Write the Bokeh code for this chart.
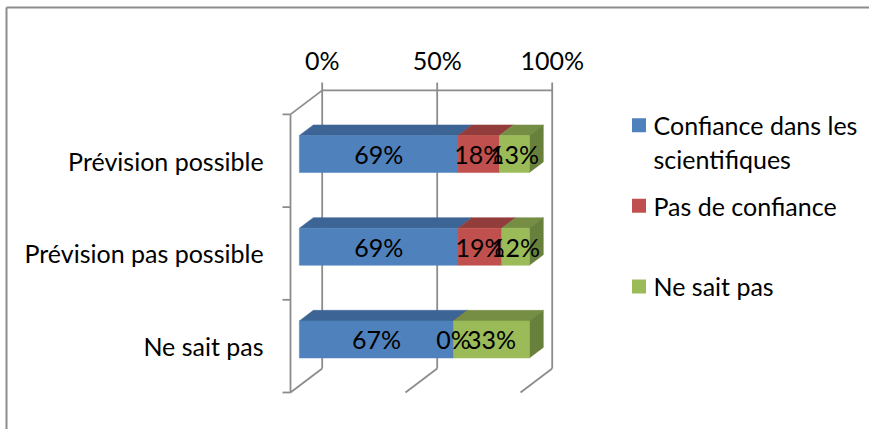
import textwrap
from bokeh.plotting import figure
from bokeh.models import Range1d, ColumnDataSource
from bokeh.core.properties import value
from bokeh.embed import file_html
from bokeh.resources import INLINE

# ---------------- data ----------------
categories = ["Prévision possible", "Prévision pas possible", "Ne sait pas"]
series_names = ["Confiance dans les scientifiques", "Pas de confiance", "Ne sait pas"]
confiance = [69, 69, 67]
pas_de_confiance = [18, 19, 0]
ne_sait_pas = [13, 12, 33]
tick_values = [0, 50, 100]
tick_labels = ["0%", "50%", "100%"]

series_values = [confiance, pas_de_confiance, ne_sait_pas]
front_colors = ["#4F81BD", "#C0504D", "#9BBB59"]
top_colors = ["#3C6494", "#923D3B", "#768E44"]
side_colors = ["#35587F", "#7F3533", "#67803B"]

# ---------------- geometry / styles ----------------
W, H = 869, 429
PX_PER_PCT = 2.3          # pixels per percent on the front plane
PX_PER_CAT = 92.7         # pixels per category band
ORIG_X, ORIG_Y = 290, 392 # page position of the front-plane origin
PAGE_OFF = 0
DX = 31.7 / PX_PER_PCT    # depth vector (full depth) in data units
DY = 24.0 / PX_PER_CAT
F1, F2 = 0.28, 0.72       # bar front / back depth fractions
HB = 0.2                  # half bar height in category units
FONT = value("Lato")
FSIZE = "25px"
GRID = "#8C8C8C"

x_start = (PAGE_OFF - ORIG_X) / PX_PER_PCT
x_end = x_start + W / PX_PER_PCT
y_end = (ORIG_Y - PAGE_OFF) / PX_PER_CAT
y_start = y_end - H / PX_PER_CAT

p = figure(width=W, height=H, x_range=Range1d(x_start, x_end),
           y_range=Range1d(y_start, y_end), output_backend="svg",
           toolbar_location=None, min_border=0,
           x_axis_type=None, y_axis_type=None)
p.grid.visible = False
p.outline_line_color = None
p.background_fill_color = "white"
p.border_fill_color = "white"

n = len(categories)
centers = [n - 0.5 - i for i in range(n)]
tick_len_y = 8 / PX_PER_CAT
tick_len_x = 8 / PX_PER_PCT

# chart-area border (top and left visible)
bx = x_start + 6 / PX_PER_PCT
by = y_end - 7 / PX_PER_CAT
p.segment(x0=[bx, bx], y0=[by, by], x1=[x_end, bx], y1=[by, y_start],
          line_color="#8C8C8C", line_width=2)

# ---------------- walls / gridlines ----------------
gx0, gy0, gx1, gy1 = [], [], [], []
for t in tick_values:
    gx0.append(t + DX); gy0.append(DY); gx1.append(t + DX); gy1.append(n + DY + tick_len_y)
    gx0.append(t); gy0.append(0); gx1.append(t + DX); gy1.append(DY)
gx0.append(tick_values[0] + DX); gy0.append(n + DY); gx1.append(tick_values[-1] + DX); gy1.append(n + DY)
gx0.append(0); gy0.append(0); gx1.append(0); gy1.append(n)
gx0.append(0); gy0.append(n); gx1.append(DX); gy1.append(n + DY)
for k in range(n + 1):
    gx0.append(-tick_len_x); gy0.append(k); gx1.append(0); gy1.append(k)
p.segment(x0=gx0, y0=gy0, x1=gx1, y1=gy1, line_color=GRID, line_width=1.8)

# ---------------- bars ----------------
front = dict(left=[], right=[], bottom=[], top=[], color=[])
tops = dict(xs=[], ys=[], color=[])
sides = dict(xs=[], ys=[], color=[])
labels = dict(x=[], y=[], text=[])
for ci, yc in enumerate(centers):
    cum = 0
    last_s = 0
    for si, vals in enumerate(series_values):
        v = vals[ci]
        l, r = cum, cum + v
        b1, t1 = yc - HB + F1 * DY, yc + HB + F1 * DY
        t2 = yc + HB + F2 * DY
        front["left"].append(l + F1 * DX); front["right"].append(r + F1 * DX)
        front["bottom"].append(b1); front["top"].append(t1)
        front["color"].append(front_colors[si])
        tops["xs"].append([l + F1 * DX, r + F1 * DX, r + F2 * DX, l + F2 * DX])
        tops["ys"].append([t1, t1, t2, t2])
        tops["color"].append(top_colors[si])
        labels["x"].append((l + r) / 2 + F1 * DX)
        labels["y"].append(yc + F1 * DY)
        labels["text"].append(f"{v}%")
        if v > 0:
            last_s = si
        cum = r
    b1, t1 = yc - HB + F1 * DY, yc + HB + F1 * DY
    b2, t2 = yc - HB + F2 * DY, yc + HB + F2 * DY
    sides["xs"].append([cum + F1 * DX, cum + F2 * DX, cum + F2 * DX, cum + F1 * DX])
    sides["ys"].append([b1, b2, t2, t1])
    sides["color"].append(side_colors[last_s])

p.patches(xs="xs", ys="ys", source=ColumnDataSource(tops), fill_color="color",
          line_color="color", line_width=0.5)
p.patches(xs="xs", ys="ys", source=ColumnDataSource(sides), fill_color="color",
          line_color="color", line_width=0.5)
p.quad(left="left", right="right", bottom="bottom", top="top",
       source=ColumnDataSource(front), fill_color="color", line_color="color", line_width=0.5)

p.text(x="x", y="y", text="text", source=ColumnDataSource(labels),
       text_font=FONT, text_font_size=FSIZE, text_align="center",
       text_baseline="middle", text_color="black")

# ---------------- axis labels ----------------
p.text(x=[-11.7] * n, y=centers, text=categories, text_font=FONT,
       text_font_size=FSIZE, text_align="right", text_baseline="middle",
       text_color="black")
p.text(x=[t + DX for t in tick_values], y=[n + DY + 0.33] * len(tick_values),
       text=tick_labels, text_font=FONT, text_font_size=FSIZE,
       text_align="center", text_baseline="middle", text_color="black")

# ---------------- legend ----------------
leg_sq_left = (631.5 - ORIG_X) / PX_PER_PCT
leg_sq_w = 14 / PX_PER_PCT
leg_sq_h = 14 / PX_PER_CAT
leg_text_x = (653 - ORIG_X) / PX_PER_PCT
leg_y0 = (ORIG_Y - 124.7) / PX_PER_CAT
leg_step = 0.87
line_step = 34 / PX_PER_CAT
sq = dict(left=[], right=[], bottom=[], top=[], color=[])
lt = dict(x=[], y=[], text=[])
for si, name in enumerate(series_names):
    yc = leg_y0 - si * leg_step
    sq["left"].append(leg_sq_left); sq["right"].append(leg_sq_left + leg_sq_w)
    sq["bottom"].append(yc - leg_sq_h / 2); sq["top"].append(yc + leg_sq_h / 2)
    sq["color"].append(front_colors[si])
    for li, line in enumerate(textwrap.wrap(name, 18)):
        lt["x"].append(leg_text_x); lt["y"].append(yc - li * line_step); lt["text"].append(line)
p.quad(left="left", right="right", bottom="bottom", top="top",
       source=ColumnDataSource(sq), fill_color="color", line_color=None)
p.text(x="x", y="y", text="text", source=ColumnDataSource(lt), text_font=FONT,
       text_font_size=FSIZE, text_align="left", text_baseline="middle",
       text_color="black")

open("out.html", "w").write(file_html(p, INLINE))
